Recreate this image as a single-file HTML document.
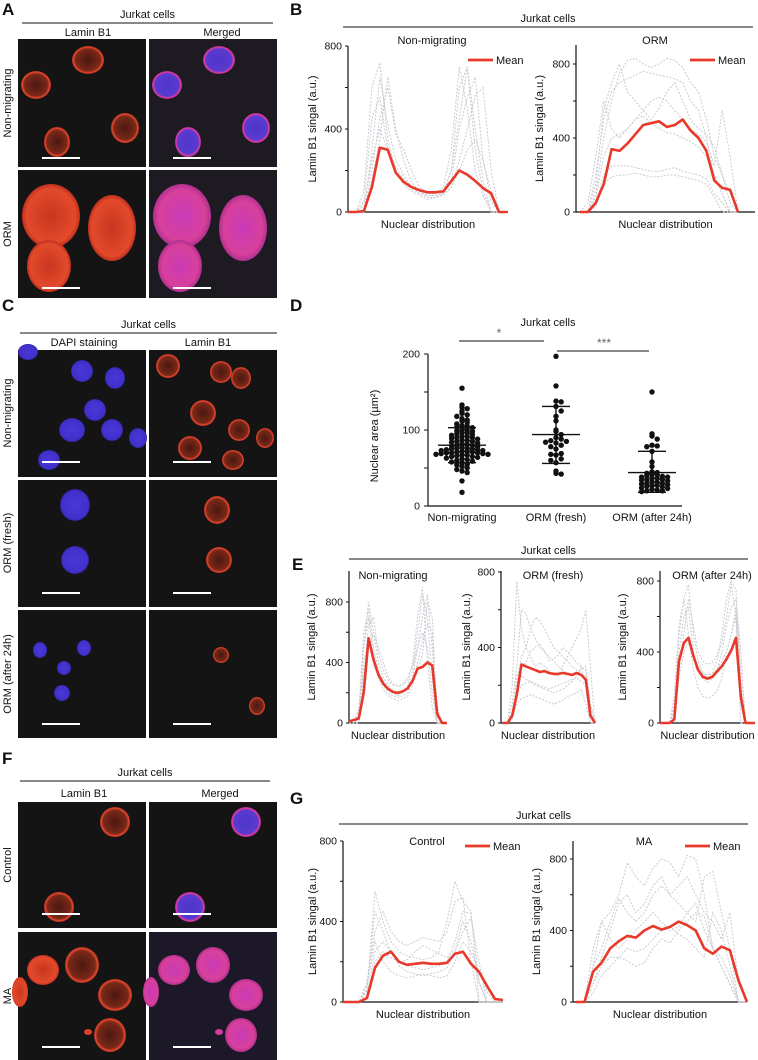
<!DOCTYPE html>
<html><head><meta charset="utf-8"><style>
html,body{margin:0;padding:0;background:#fff;}
svg{display:block;font-family:"Liberation Sans",Arial,sans-serif;}
</style></head><body>
<svg id="fig" width="758" height="1060" viewBox="0 0 758 1060" xmlns="http://www.w3.org/2000/svg">
<defs>
<radialGradient id="gRed" cx="50%" cy="50%" r="50%"><stop offset="0%" stop-color="#4a1810"/><stop offset="78%" stop-color="#7a2818"/><stop offset="92%" stop-color="#e0452c"/><stop offset="100%" stop-color="#b03020"/></radialGradient>
<radialGradient id="gRedB" cx="50%" cy="50%" r="50%"><stop offset="0%" stop-color="#c8361f"/><stop offset="85%" stop-color="#e24a2a"/><stop offset="100%" stop-color="#c03020"/></radialGradient>
<radialGradient id="gMerge" cx="50%" cy="50%" r="50%"><stop offset="0%" stop-color="#4d37c8"/><stop offset="80%" stop-color="#5a3ad0"/><stop offset="92%" stop-color="#e03aa0"/><stop offset="100%" stop-color="#a0308a"/></radialGradient>
<radialGradient id="gMergeB" cx="50%" cy="50%" r="50%"><stop offset="0%" stop-color="#c83ab8"/><stop offset="80%" stop-color="#d8409a"/><stop offset="100%" stop-color="#b03090"/></radialGradient>
<radialGradient id="gBlue" cx="50%" cy="50%" r="50%"><stop offset="0%" stop-color="#4a38d8"/><stop offset="90%" stop-color="#4030c8"/><stop offset="100%" stop-color="#2a2090"/></radialGradient>
</defs>
<g id="photos"></g>
<g id="texts"></g>
<g id="charts"></g>
</svg>
<script>
// ---------- chart data ----------
var B1_mean=[0,0,5,120,310,300,190,145,120,105,95,95,100,150,200,180,150,115,90,0,0];
var B1_traces=[
[0,0,0,300,650,420,250,180,120,90,80,80,90,200,600,700,300,100,0,0,0],
[0,0,100,600,720,350,200,150,110,90,70,70,90,150,400,550,650,250,50,0,0],
[0,0,0,200,450,600,380,300,200,120,90,90,120,300,700,500,200,80,0,0,0],
[0,0,50,450,550,300,200,130,100,80,60,70,80,120,250,400,560,600,200,0,0],
[0,0,0,150,350,650,400,250,140,100,90,90,100,200,450,700,400,150,0,0,0],
[0,0,30,250,400,300,220,160,120,100,80,80,90,120,200,300,350,250,100,0,0]];
var B2_mean=[0,0,50,150,340,330,370,420,470,480,490,460,470,500,440,400,330,170,130,120,0];
var B2_traces=[
[0,0,100,400,600,750,820,830,800,780,800,830,820,780,700,650,500,300,200,50,0],
[0,0,200,500,650,700,720,740,760,750,740,730,720,700,600,550,400,200,100,0,0],
[0,0,50,200,250,250,250,240,230,220,220,230,240,220,210,200,180,100,50,0,0],
[0,0,30,150,190,200,200,210,200,190,190,200,200,190,180,170,150,80,0,0,0],
[0,50,300,600,450,400,450,500,550,600,620,600,550,500,450,420,380,250,550,300,0],
[0,0,150,550,700,800,650,600,550,500,560,650,700,600,500,450,420,350,200,100,0],
[0,0,80,300,400,420,450,500,520,480,450,430,420,400,380,350,300,200,100,0,0]];
var E1_mean=[10,20,30,200,560,420,320,260,225,205,200,210,230,280,360,370,400,380,60,0,0];
var E1_traces=[
[0,0,100,500,800,600,400,300,250,200,180,200,250,350,600,850,700,300,0,0,0],
[0,0,50,600,750,500,350,250,200,180,170,180,200,300,500,700,850,500,0,0,0],
[0,0,0,300,650,700,450,350,280,250,240,250,280,400,700,900,400,100,0,0,0],
[0,0,30,400,550,400,300,220,180,160,150,160,180,250,400,550,650,600,100,0,0],
[0,0,80,500,700,450,330,280,230,200,190,200,220,280,350,450,800,700,0,0,0],
[0,0,0,350,500,600,500,400,300,260,250,260,300,380,500,600,500,200,0,0,0]];
var E2_mean=[0,0,40,150,310,300,290,280,270,275,265,260,260,265,260,255,265,255,230,40,0];
var E2_traces=[
[0,0,200,750,500,400,350,300,320,300,280,260,250,300,350,400,450,500,600,300,0],
[0,0,100,300,600,580,500,450,400,380,350,330,300,280,260,250,260,280,300,100,0],
[0,0,50,200,350,400,500,560,540,500,450,400,380,350,330,300,280,260,250,50,0],
[0,0,30,150,200,210,220,200,190,180,170,160,170,180,200,220,250,300,200,0,0],
[0,0,20,100,130,140,150,140,130,120,110,100,110,120,140,150,160,180,100,0,0],
[0,0,50,250,300,320,380,400,420,380,330,340,360,400,380,350,320,300,280,100,0],
[0,0,30,150,250,230,220,210,200,190,180,190,200,210,220,230,240,220,200,50,0]];
var E3_mean=[0,0,0,20,350,450,480,380,300,260,250,260,290,320,360,410,480,150,0,0,0];
var E3_traces=[
[0,0,0,100,500,700,780,500,350,280,260,280,350,500,700,800,750,200,0,0,0],
[0,0,0,50,400,600,650,400,300,250,230,250,300,400,550,650,700,400,0,0,0],
[0,0,0,150,550,700,500,300,200,150,140,150,180,250,400,500,600,100,0,0,0],
[0,0,0,80,300,500,700,550,400,350,330,340,380,450,600,780,600,0,0,0,0],
[0,0,0,30,250,400,450,380,320,280,270,280,300,350,400,500,650,300,0,0,0]];
var G1_mean=[0,0,0,20,170,230,250,200,185,190,195,190,190,195,240,250,190,150,80,15,10];
var G1_traces=[
[0,0,0,50,550,400,300,250,230,220,210,220,250,400,600,500,450,0,0,0,0],
[0,0,0,100,350,450,350,300,280,300,320,310,300,350,500,520,200,0,0,0,0],
[0,0,0,30,250,300,250,200,180,170,160,170,180,200,300,450,440,100,0,0,0],
[0,0,0,80,300,200,150,130,120,130,140,130,120,130,200,300,250,150,50,0,0],
[0,0,0,20,200,250,220,200,210,250,280,260,240,220,260,400,300,100,0,0,0],
[0,0,0,60,450,350,250,180,150,140,130,140,150,170,250,350,420,200,0,0,0]];
var G2_mean=[0,0,170,220,300,340,370,360,400,425,405,420,450,430,400,300,270,310,290,120,0];
var G2_traces=[
[0,0,300,450,500,600,780,700,650,750,800,780,700,820,800,600,300,200,100,0,0],
[0,0,100,250,400,550,600,500,550,650,700,600,550,500,450,700,730,500,300,0,0],
[0,0,200,450,350,300,350,400,450,500,450,400,420,500,550,400,300,200,100,0,0],
[0,0,100,200,250,250,300,280,300,350,400,420,380,350,300,250,500,400,200,0,0],
[0,0,50,150,200,250,230,200,220,300,350,330,400,450,500,480,300,250,150,0,0],
[0,0,200,300,450,580,500,450,500,600,650,600,650,700,600,500,450,350,500,100,0]];
// Nuclear area (μm²) per cell
var D_categories=["Non-migrating","ORM (fresh)","ORM (after 24h)"];
var D_nonmig=[155,133,130,128,125,122,120,118,115,113,112,110,108,106,105,104,103,101,100,99,98,97,96,95,94,93,92,91,90,90,89,88,87,86,85,85,84,83,82,81,80,80,79,78,77,76,76,75,75,74,74,73,73,72,72,71,71,70,70,70,69,69,68,68,67,67,66,65,65,64,63,62,61,60,59,58,57,55,54,52,50,48,46,44,33,18];
var D_fresh=[197,158,138,137,131,125,118,112,100,98,94,90,88,86,85,84,83,80,78,75,69,68,67,62,60,57,46,43,42];
var D_after=[150,95,92,88,80,79,78,72,58,52,45,44,43,42,41,40,39,38,38,37,36,35,35,34,33,32,31,30,30,29,28,27,27,26,25,24,23,22,21,20,20,19];
var D_mean=[80,94,44];
var D_upper=[103,131,72];
var D_lower=[57,56,18];
var D_yticks=[0,50,100,150,200];
var D_ylabels=["0","","100","","200"];
var L_ticks=[0,200,400,600,800];
var L_labels=["0","","400","","800"];

var NS="http://www.w3.org/2000/svg";
function mk(parent,tag,attrs,name){var e=document.createElementNS(NS,tag);for(var k in attrs)e.setAttribute(k,attrs[k]);


parent.appendChild(e);return e;}
function txt(parent,x,y,s,size,name,opts){opts=opts||{};var t=mk(parent,'text',{x:x,y:y,'font-size':size,fill:opts.fill||'#111','text-anchor':opts.anchor||'middle','font-weight':opts.bold?'bold':'normal'},name);
if(opts.rot)t.setAttribute('transform','rotate(-90 '+x+' '+y+')');t.textContent=s;return t;}

var P=document.getElementById('photos'),T=document.getElementById('texts'),C=document.getElementById('charts');

// ---------- microscopy panels ----------
function panel(x,y,w,h,cells,bar,bg,name){var g=mk(P,'g',{},name);
mk(g,'rect',{x:x,y:y,width:w,height:h,fill:bg||'#141414'},name+'-background');
cells.forEach(function(c,i){mk(g,'ellipse',{cx:x+c[0],cy:y+c[1],rx:c[2],ry:c[3],fill:'url(#'+c[4]+')'},name+'-cell');});
if(bar)mk(g,'line',{x1:x+24,y1:y+bar,x2:x+62,y2:y+bar,stroke:'#fff','stroke-width':2},name+'-scale-bar');}
var aTop=[[18,46,15,14,'gRed'],[70,21,16,14,'gRed'],[39,103,13,15,'gRed'],[107,89,14,15,'gRed']];
var aTopM=aTop.map(function(c){return [c[0],c[1],c[2],c[3],'gMerge'];});
panel(18,39,128,128,aTop,119,'#141414','panel-a-nonmig-lamin');
panel(149,39,128,128,aTopM,119,'#1e1a22','panel-a-nonmig-merged');
var aBot=[[33,46,29,32,'gRedB'],[94,58,24,33,'gRedB'],[31,96,22,26,'gRedB']];
panel(18,170,128,128,aBot,118,'#141414','panel-a-orm-lamin');
panel(149,170,128,128,aBot.map(function(c){return [c[0],c[1],c[2],c[3],'gMergeB'];}),118,'#1e1a22','panel-a-orm-merged');
panel(18,350,128,127,[[10,2,10,8,'gBlue'],[64,21,11,11,'gBlue'],[97,28,10,11,'gBlue'],[77,60,11,11,'gBlue'],[54,80,13,12,'gBlue'],[94,80,11,11,'gBlue'],[120,88,9,10,'gBlue'],[31,110,11,10,'gBlue']],112,'#141414','panel-c-nonmig-dapi');
panel(149,350,128,127,[[19,16,12,12,'gRed'],[72,22,11,11,'gRed'],[92,28,10,11,'gRed'],[54,63,13,13,'gRed'],[90,80,11,11,'gRed'],[41,98,12,12,'gRed'],[84,110,11,10,'gRed'],[116,88,9,10,'gRed']],112,'#141414','panel-c-nonmig-lamin');
panel(18,480,128,127,[[57,25,15,16,'gBlue'],[57,80,14,14,'gBlue']],113,'#141414','panel-c-fresh-dapi');
panel(149,480,128,127,[[68,30,13,14,'gRed'],[70,80,13,13,'gRed']],113,'#141414','panel-c-fresh-lamin');
panel(18,610,128,128,[[22,40,7,8,'gBlue'],[46,58,7,7,'gBlue'],[66,38,7,8,'gBlue'],[44,83,8,8,'gBlue']],114,'#141414','panel-c-after-dapi');
panel(149,610,128,128,[[72,45,8,8,'gRed'],[108,96,8,9,'gRed']],114,'#141414','panel-c-after-lamin');
var fTop=[[97,20,15,15,'gRed'],[41,105,15,15,'gRed']];
panel(18,802,128,126,fTop,112,'#141414','panel-f-control-lamin');
panel(149,802,128,126,fTop.map(function(c){return [c[0],c[1],c[2],c[3],'gMerge'];}),112,'#141414','panel-f-control-merged');
var fBot=[[25,38,16,15,'gRedB'],[64,33,17,18,'gRed'],[97,63,17,16,'gRed'],[92,103,16,17,'gRed'],[2,60,8,15,'gRedB'],[70,100,4,3,'gRedB']];
panel(18,932,128,128,fBot,115,'#141414','panel-f-ma-lamin');
panel(149,932,128,128,fBot.map(function(c){return [c[0],c[1],c[2],c[3],'gMergeB'];}),115,'#1c1828','panel-f-ma-merged');

// ---------- text & headers ----------
function header(x1,x2,y,label,name){mk(T,'line',{x1:x1,y1:y,x2:x2,y2:y,stroke:'#111','stroke-width':1},name+'-rule');txt(T,(x1+x2)/2,y-5,label,11,name);}
txt(T,2,15,'A',17,'panel-label-a',{anchor:'start',bold:true});
txt(T,290,15,'B',17,'panel-label-b',{anchor:'start',bold:true});
txt(T,2,311,'C',17,'panel-label-c',{anchor:'start',bold:true});
txt(T,290,311,'D',17,'panel-label-d',{anchor:'start',bold:true});
txt(T,292,570,'E',17,'panel-label-e',{anchor:'start',bold:true});
txt(T,2,764,'F',17,'panel-label-f',{anchor:'start',bold:true});
txt(T,290,804,'G',17,'panel-label-g',{anchor:'start',bold:true});
header(22,273,23,'Jurkat cells','header-a');
header(343,753,27,'Jurkat cells','header-b');
header(20,277,333,'Jurkat cells','header-c');
header(349,748,559,'Jurkat cells','header-e');
header(20,270,781,'Jurkat cells','header-f');
header(339,748,824,'Jurkat cells','header-g');
txt(T,88,36,'Lamin B1',11,'col-label-lamin-a');txt(T,222,36,'Merged',11,'col-label-merged-a');
txt(T,84,346,'DAPI staining',11,'col-label-dapi-c');txt(T,208,346,'Lamin B1',11,'col-label-lamin-c');
txt(T,84,797,'Lamin B1',11,'col-label-lamin-f');txt(T,220,797,'Merged',11,'col-label-merged-f');
txt(T,11,103,'Non-migrating',11,'row-label-nonmig-a',{rot:true});txt(T,11,234,'ORM',11,'row-label-orm-a',{rot:true});
txt(T,11,413,'Non-migrating',11,'row-label-nonmig-c',{rot:true});txt(T,11,543,'ORM (fresh)',11,'row-label-fresh-c',{rot:true});
txt(T,11,674,'ORM (after 24h)',11,'row-label-after-c',{rot:true});
txt(T,11,865,'Control',11,'row-label-control-f',{rot:true});txt(T,11,996,'MA',11,'row-label-ma-f',{rot:true});

// ---------- line charts ----------
function lineChart(cfg,traces,mean){
  var g=mk(C,'g',{},cfg.name);
  var k=(cfg.y0-cfg.y800)/800;
  function ys(v){return cfg.y0-v*k;}
  function xs(i,n){return cfg.dx0+i/(n-1)*(cfg.dx1-cfg.dx0);}
  mk(g,'line',{x1:cfg.ax,y1:cfg.ytop,x2:cfg.ax,y2:cfg.y0,stroke:'#111','stroke-width':1.2},cfg.name+'-y-axis');
  mk(g,'line',{x1:cfg.ax,y1:cfg.y0,x2:cfg.xend,y2:cfg.y0,stroke:'#111','stroke-width':1.2},cfg.name+'-x-axis');
  L_ticks.forEach(function(t,i){var y=ys(t);mk(g,'line',{x1:cfg.ax-3,y1:y,x2:cfg.ax,y2:y,stroke:'#111','stroke-width':1},cfg.name+'-y-tick');
    if(L_labels[i])txt(g,cfg.ax-6,y+3.5,L_labels[i],10.5,cfg.name+'-y-tick-label',{anchor:'end'});});
  traces.forEach(function(tr){var d=tr.map(function(v,i){return (i?'L':'M')+xs(i,tr.length).toFixed(1)+','+ys(v).toFixed(1);}).join('');
    mk(g,'path',{d:d,fill:'none',stroke:'#c9cbd3','stroke-width':1,'stroke-dasharray':'2,1.5'},cfg.name+'-trace');});
  var d=mean.map(function(v,i){return (i?'L':'M')+xs(i,mean.length).toFixed(1)+','+ys(v).toFixed(1);}).join('');
  mk(g,'path',{d:d,fill:'none',stroke:'#e8392a','stroke-width':2.6,'stroke-linejoin':'round'},cfg.name+'-mean-line');
  txt(g,cfg.tx,cfg.ty,cfg.title,11,cfg.name+'-title');
  txt(g,cfg.ylx,(cfg.ytop+cfg.y0)/2,'Lamin B1 singal (a.u.)',11,cfg.name+'-y-axis-title',{rot:true});
  txt(g,(cfg.ax+cfg.xend)/2,cfg.y0+16,'Nuclear distribution',11,cfg.name+'-x-axis-title');
  if(cfg.leg){mk(g,'line',{x1:cfg.leg,y1:cfg.legy,x2:cfg.leg+25,y2:cfg.legy,stroke:'#e8392a','stroke-width':2.8},cfg.name+'-legend-swatch');
    txt(g,cfg.leg+28,cfg.legy+4,'Mean',11,cfg.name+'-legend-label',{anchor:'start'});}
}
lineChart({name:'chart-b-nonmig',ax:348,ytop:46,y0:212,y800:46,xend:508,dx0:348,dx1:507,title:'Non-migrating',tx:432,ty:44,ylx:316,leg:468,legy:60},B1_traces,B1_mean);
lineChart({name:'chart-b-orm',ax:576,ytop:45,y0:212,y800:64,xend:755,dx0:580,dx1:738,title:'ORM',tx:655,ty:44,ylx:543,leg:690,legy:60},B2_traces,B2_mean);
lineChart({name:'chart-e-nonmig',ax:349,ytop:571,y0:723,y800:602,xend:447,dx0:349,dx1:447,title:'Non-migrating',tx:393,ty:579,ylx:315},E1_traces,E1_mean);
lineChart({name:'chart-e-fresh',ax:501,ytop:571,y0:723,y800:572,xend:595,dx0:503,dx1:595,title:'ORM (fresh)',tx:553,ty:579,ylx:470},E2_traces,E2_mean);
lineChart({name:'chart-e-after',ax:660,ytop:571,y0:723,y800:581,xend:755,dx0:660,dx1:755,title:'ORM (after 24h)',tx:712,ty:579,ylx:626},E3_traces,E3_mean);
lineChart({name:'chart-g-control',ax:343,ytop:841,y0:1002,y800:841,xend:503,dx0:343,dx1:503,title:'Control',tx:427,ty:845,ylx:316,leg:465,legy:846},G1_traces,G1_mean);
lineChart({name:'chart-g-ma',ax:573,ytop:841,y0:1002,y800:859,xend:747,dx0:576,dx1:747,title:'MA',tx:644,ty:845,ylx:540,leg:685,legy:846},G2_traces,G2_mean);

// ---------- scatter chart D ----------
(function(){
  var g=mk(C,'g',{},'chart-d-nuclear-area');
  var ax=428,y0=506,y200=354,xend=682,cx=[462,556,652],binw=[5,8,5];
  function ys(v){return y0-v*(y0-y200)/200;}
  mk(g,'line',{x1:ax,y1:y200,x2:ax,y2:y0,stroke:'#111','stroke-width':1.2},'d-y-axis');
  mk(g,'line',{x1:ax,y1:y0,x2:xend,y2:y0,stroke:'#111','stroke-width':1.2},'d-x-axis');
  D_yticks.forEach(function(t,i){var y=ys(t);mk(g,'line',{x1:ax-4,y1:y,x2:ax,y2:y,stroke:'#111'},'d-y-tick');
    if(D_ylabels[i])txt(g,ax-8,y+3.5,D_ylabels[i],10.5,'d-y-tick-label',{anchor:'end'});});
  txt(g,378,436,'Nuclear area (µm²)',11,'d-y-axis-title',{rot:true});
  txt(g,548,326,'Jurkat cells',11,'d-title');
  D_categories.forEach(function(c,i){txt(g,cx[i],521,c,11,'d-category-label');});
  [D_nonmig,D_fresh,D_after].forEach(function(vals,gi){
    var bins={};
    vals.forEach(function(v){var b=Math.round(v/binw[gi]);var n=bins[b]||0;bins[b]=n+1;
      var off=(n===0?0:(n%2?1:-1)*Math.ceil(n/2))*5.2;
      mk(g,'circle',{cx:cx[gi]+off,cy:ys(v),r:2.7,fill:'#111'},'d-dot');});
    var w=24;
    mk(g,'line',{x1:cx[gi]-w,y1:ys(D_mean[gi]),x2:cx[gi]+w,y2:ys(D_mean[gi]),stroke:'#111','stroke-width':1.4},'d-mean-bar');
    mk(g,'line',{x1:cx[gi]-14,y1:ys(D_upper[gi]),x2:cx[gi]+14,y2:ys(D_upper[gi]),stroke:'#111','stroke-width':1.4},'d-sd-cap');
    mk(g,'line',{x1:cx[gi]-14,y1:ys(D_lower[gi]),x2:cx[gi]+14,y2:ys(D_lower[gi]),stroke:'#111','stroke-width':1.4},'d-sd-cap');
    mk(g,'line',{x1:cx[gi],y1:ys(D_upper[gi]),x2:cx[gi],y2:ys(D_lower[gi]),stroke:'#111','stroke-width':1.4},'d-sd-whisker');
  });
  mk(g,'line',{x1:459,y1:341,x2:544,y2:341,stroke:'#111','stroke-width':1},'d-sig-bar-1');
  txt(g,499,337,'*',12,'d-sig-star-1',{fill:'#666'});
  mk(g,'line',{x1:557,y1:351,x2:649,y2:351,stroke:'#111','stroke-width':1},'d-sig-bar-2');
  txt(g,604,347,'***',12,'d-sig-star-2',{fill:'#666'});
})();
</script>
</body></html>
